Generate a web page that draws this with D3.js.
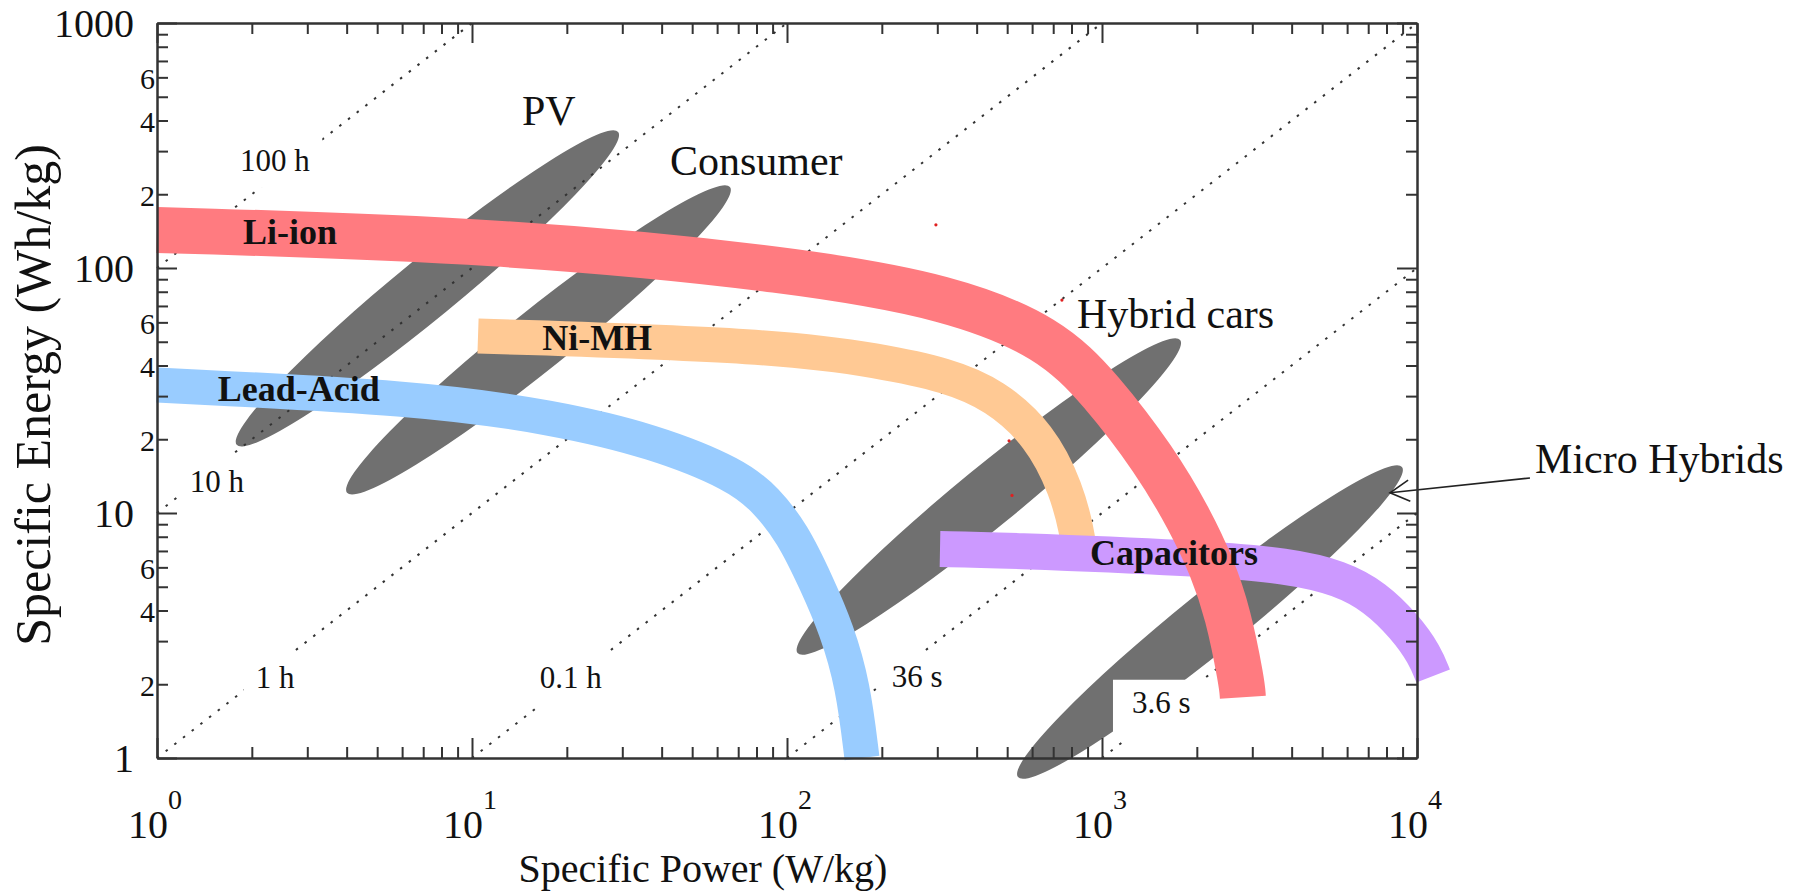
<!DOCTYPE html>
<html>
<head>
<meta charset="utf-8">
<script src="https://cdnjs.cloudflare.com/ajax/libs/d3/7.8.5/d3.min.js"></script>
<style>
  body { margin: 0; background: #fff; }
  svg text { font-family: "Liberation Serif", "Times New Roman", serif; fill: #111; }
</style>
</head>
<body>
<script>
// axis ticks
const powerDecades = [1, 10, 100, 1000, 10000];
const powerExponents = ["0", "1", "2", "3", "4"];
const energyDecades = [1, 10, 100, 1000];
const energyDecadeLabels = ["1", "10", "100", "1000"];
const energyMinorValues = [2, 4, 6, 20, 40, 60, 200, 400, 600];
const energyMinorLabels = ["2", "4", "6", "2", "4", "6", "2", "4", "6"];

// constant discharge time lines (hours) and where their labels sit [W/kg, Wh/kg]
const dischargeHours = [100, 10, 1, 0.1, 0.01, 0.001];
const dischargeLabels = ["100 h", "10 h", "1 h", "0.1 h", "36 s", "3.6 s"];
const dischargeLabelAt = [[1.835, 249], [1.27, 12.2], [2.06, 1.93], [16.4, 1.93], [215, 1.95], [1245, 1.53]];

// application regions: tips of the long axis [W/kg, Wh/kg]
const regionNames = ["PV", "Consumer", "Hybrid cars", "Micro Hybrids"];
const regionLow = [[1.79, 19.0], [4.01, 12.1], [108, 2.68], [541, 0.836]];
const regionHigh = [[29.1, 359], [65.9, 214], [1770, 50.8], [8960, 15.4]];
const regionLabelAt = [[14.4, 383], [42.5, 240], [833, 56.9], [23700, 14.6]];

// technology bands, centre lines [W/kg, Wh/kg]
const bandNames = ["Lead-Acid", "Ni-MH", "Capacitors", "Li-ion"];
const leadAcid = [[1, 33.3], [6.84, 29.5], [18.1, 24.6], [37.6, 19.7], [69.4, 14.3], [85.8, 11.3],
                  [104, 8.28], [124, 5.18], [144, 3.33], [162, 1.99], [173, 1]];
const niMH = [[10.45, 52.8], [95, 48.1], [197, 41.7], [322, 36.6], [457, 30.3], [635, 20.8],
              [774, 12.4], [833, 8.28], [845, 7.2]];
const capacitors = [[306, 7.13], [474, 7.06], [2047, 6.55], [3954, 6.08], [5698, 5.43],
                    [7361, 4.54], [9160, 3.43], [10600, 2.63], [11250, 2.16]];
const liIon = [[1, 143], [12.3, 130], [110, 98], [329, 76], [684, 52], [993, 31.8], [1473, 16.4],
               [1902, 9.36], [2234, 6.02], [2512, 3.91], [2781, 2.02], [2800, 1.77]];
const bandLabelAt = [[1.56, 28.7], [16.7, 46.3], [916, 6.13], [1.875, 125]];

const microArrowFrom = [22840, 13.9];
const microArrowTo = [8210, 12.1];
const strayDots = [[297, 150], [746, 74], [507, 19.7], [518, 11.8]];

// styles
const bandData = [leadAcid, niMH, capacitors, liIon];
const bandColor = ["#99ccff", "#ffc994", "#cc99ff", "#ff7b80"];
const bandWidth = [35, 35, 36, 46];
const labelPad = {"3.6 s": [19, 5, 13, 20]};
const defaultPad = [12, 8, 12, 10];

const svg = d3.select("body")
    .append("svg")
    .attr("width", 1806)
    .attr("height", 891);

const x = d3.scaleLog().domain([1, 1e4]).range([157, 1417]);
const y = d3.scaleLog().domain([1, 1000]).range([758, 23]);

// grey regions
svg.append("g").selectAll("ellipse")
    .data(regionNames)
    .enter().append("ellipse")
    .each(function(d, i) {
        const x1 = x(regionLow[i][0]), y1 = y(regionLow[i][1]);
        const x2 = x(regionHigh[i][0]), y2 = y(regionHigh[i][1]);
        const cx = (x1 + x2) / 2, cy = (y1 + y2) / 2;
        const ang = Math.atan2(y2 - y1, x2 - x1) * 180 / Math.PI;
        d3.select(this)
            .attr("cx", cx).attr("cy", cy)
            .attr("rx", Math.hypot(x2 - x1, y2 - y1) / 2)
            .attr("ry", 30)
            .attr("transform", `rotate(${ang},${cx},${cy})`)
            .attr("fill", "#707070");
    });

// dotted time lines
svg.append("g").selectAll("line")
    .data(dischargeHours)
    .enter().append("line")
    .attr("x1", function(t) { return x(Math.max(1, 1 / t)); })
    .attr("y1", function(t) { return y(t * Math.max(1, 1 / t)); })
    .attr("x2", function(t) { return x(Math.min(1e4, 1000 / t)); })
    .attr("y2", function(t) { return y(t * Math.min(1e4, 1000 / t)); })
    .attr("stroke", "#333")
    .attr("stroke-width", 2)
    .attr("stroke-dasharray", "2.5 8.5");

// time labels on white boxes
const timeGroup = svg.append("g");
dischargeLabels.forEach(function(lbl, i) {
    const g = timeGroup.append("g");
    const rect = g.append("rect").attr("fill", "#fff");
    const t = g.append("text")
        .attr("x", x(dischargeLabelAt[i][0]))
        .attr("y", y(dischargeLabelAt[i][1]))
        .attr("font-size", 31)
        .text(lbl);
    const b = t.node().getBBox();
    const p = labelPad[lbl] || defaultPad;
    rect.attr("x", b.x - p[0]).attr("y", b.y - p[1])
        .attr("width", b.width + p[0] + p[2])
        .attr("height", b.height + p[1] + p[3]);
});

// bands
const band = d3.line()
    .x(function(d) { return x(d[0]); })
    .y(function(d) { return y(d[1]); })
    .curve(d3.curveBasis);

svg.append("g").selectAll("path")
    .data(bandData)
    .enter().append("path")
    .attr("d", band)
    .attr("fill", "none")
    .attr("stroke", function(d, i) { return bandColor[i]; })
    .attr("stroke-width", function(d, i) { return bandWidth[i]; })
    .attr("stroke-linecap", "butt")
    .attr("stroke-linejoin", "round");

svg.append("g").selectAll("circle")
    .data(strayDots)
    .enter().append("circle")
    .attr("cx", function(d) { return x(d[0]); })
    .attr("cy", function(d) { return y(d[1]); })
    .attr("r", 1.6)
    .attr("fill", "#e02020");

svg.append("g").selectAll("text")
    .data(bandNames)
    .enter().append("text")
    .attr("x", function(d, i) { return x(bandLabelAt[i][0]); })
    .attr("y", function(d, i) { return y(bandLabelAt[i][1]); })
    .attr("font-size", 36)
    .attr("font-weight", "bold")
    .text(function(d) { return d; });

svg.append("g").selectAll("text")
    .data(regionNames)
    .enter().append("text")
    .attr("x", function(d, i) { return x(regionLabelAt[i][0]); })
    .attr("y", function(d, i) { return y(regionLabelAt[i][1]); })
    .attr("font-size", 42)
    .text(function(d) { return d; });

// arrow to micro hybrids
const ax0 = x(microArrowFrom[0]), ay0 = y(microArrowFrom[1]);
const ax1 = x(microArrowTo[0]), ay1 = y(microArrowTo[1]);
const dir = Math.atan2(ay0 - ay1, ax0 - ax1);
const arrow = svg.append("g").attr("stroke", "#222").attr("stroke-width", 1.6).attr("fill", "none");
arrow.append("line").attr("x1", ax0).attr("y1", ay0).attr("x2", ax1).attr("y2", ay1);
arrow.append("path")
    .attr("d", `M${ax1 + 22 * Math.cos(dir + 0.5)},${ay1 + 22 * Math.sin(dir + 0.5)}L${ax1},${ay1}L${ax1 + 22 * Math.cos(dir - 0.5)},${ay1 + 22 * Math.sin(dir - 0.5)}`);

// frame with inside ticks
const minorPower = [], minorEnergy = [];
[1, 10, 100, 1000].forEach(function(d) { for (let k = 2; k < 10; k++) minorPower.push(k * d); });
[1, 10, 100].forEach(function(d) { for (let k = 2; k < 10; k++) minorEnergy.push(k * d); });

function frame(axis, tr, vals, len) {
    svg.append("g")
        .attr("transform", tr)
        .call(axis.tickValues(vals).tickSize(-len).tickSizeOuter(0).tickFormat(""))
        .call(function(g) { g.selectAll("path, line").attr("stroke", "#333").attr("stroke-width", 2); });
}
frame(d3.axisBottom(x), "translate(0,758)", minorPower, 11);
frame(d3.axisBottom(x), "translate(0,758)", powerDecades, 20);
frame(d3.axisTop(x), "translate(0,23)", minorPower, 11);
frame(d3.axisTop(x), "translate(0,23)", powerDecades, 20);
frame(d3.axisLeft(y), "translate(157,0)", minorEnergy, 11);
frame(d3.axisLeft(y), "translate(157,0)", energyDecades, 20);
frame(d3.axisRight(y), "translate(1417,0)", minorEnergy, 11);
frame(d3.axisRight(y), "translate(1417,0)", energyDecades, 20);

// tick labels
const xl = svg.append("g").selectAll("text")
    .data(powerDecades)
    .enter().append("text")
    .attr("x", function(d) { return x(d) - 29; })
    .attr("y", 838)
    .attr("font-size", 40);
xl.append("tspan").text("10");
xl.append("tspan").attr("font-size", 28).attr("dy", -29).text(function(d, i) { return powerExponents[i]; });

svg.append("g").selectAll("text")
    .data(energyDecades)
    .enter().append("text")
    .attr("x", 134)
    .attr("y", function(d) { return y(d); })
    .attr("dy", "0.36em")
    .attr("text-anchor", "end")
    .attr("font-size", 40)
    .text(function(d, i) { return energyDecadeLabels[i]; });

svg.append("g").selectAll("text")
    .data(energyMinorValues)
    .enter().append("text")
    .attr("x", 155)
    .attr("y", function(d) { return y(d); })
    .attr("dy", "0.38em")
    .attr("text-anchor", "end")
    .attr("font-size", 30)
    .text(function(d, i) { return energyMinorLabels[i]; });

// axis titles
svg.append("text")
    .attr("x", 703).attr("y", 882)
    .attr("text-anchor", "middle")
    .attr("font-size", 40)
    .text("Specific Power (W/kg)");

svg.append("text")
    .attr("transform", "translate(50,395) rotate(-90)")
    .attr("text-anchor", "middle")
    .attr("font-size", 50)
    .text("Specific Energy (Wh/kg)");
</script>
</body>
</html>
